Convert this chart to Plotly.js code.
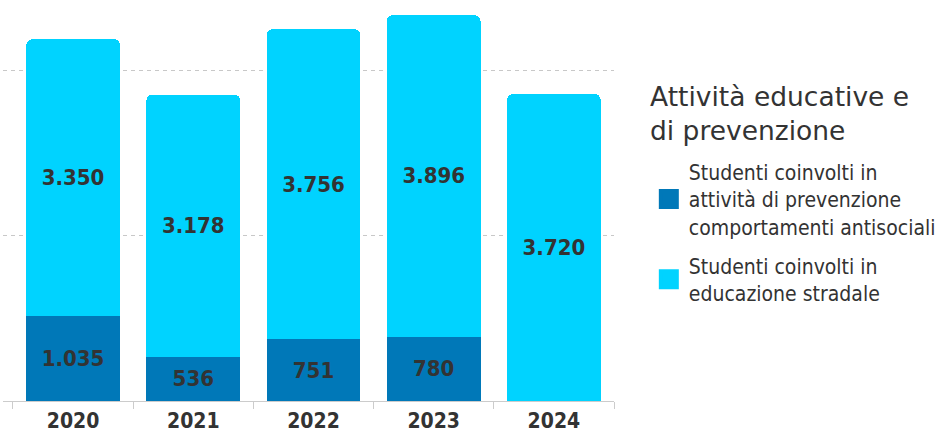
<!DOCTYPE html>
<html>
<head>
<meta charset="utf-8">
<script src="https://cdn.plot.ly/plotly-3.0.1.min.js"></script>
<style>
  html, body { margin: 0; padding: 0; background: #fff; }
  #chart { width: 949px; height: 434px; }
</style>
</head>
<body>
<div id="chart"></div>
<script>
// ---- data ----
const years = ['2020', '2021', '2022', '2023', '2024'];
const prevenzione = [1035, 536, 751, 780, null];      // Studenti coinvolti in attività di prevenzione comportamenti antisociali
const stradale = [3350, 3178, 3756, 3896, 3720];      // Studenti coinvolti in educazione stradale
const seriesNames = [
  'Studenti coinvolti in<br>attività di prevenzione<br>comportamenti antisociali',
  'Studenti coinvolti in<br>educazione stradale'
];
const legendTitle = 'Attività educative e<br>di prevenzione';
const gridValues = [2000, 4000];

const DARK = '#0078b8';
const LIGHT = '#00d3ff';
const TXT = '#333333';
const FONT = 'DejaVu Sans Condensed, DejaVu Sans, sans-serif';

const labelFont = { family: FONT, size: 22, color: TXT, weight: 'bold' };

const traces = [
  {
    type: 'bar', x: years, y: prevenzione, name: seriesNames[0],
    marker: { color: DARK }, showlegend: false,
    texttemplate: '%{y:,d}', textposition: 'inside', insidetextanchor: 'middle',
    textangle: 0, textfont: labelFont, insidetextfont: labelFont,
    constraintext: 'none', hoverinfo: 'skip'
  },
  {
    type: 'bar', x: years, y: stradale, name: seriesNames[1],
    marker: { color: LIGHT }, showlegend: false,
    texttemplate: '%{y:,d}', textposition: 'inside', insidetextanchor: 'middle',
    textangle: 0, textfont: labelFont, insidetextfont: labelFont,
    constraintext: 'none', hoverinfo: 'skip'
  },
  // legend entries
  {
    type: 'scatter', mode: 'markers', x: [years[0]], y: [null], name: seriesNames[0],
    legendgroup: 'a',
    marker: { symbol: 'square', size: 22, color: DARK, line: { color: DARK, width: 4 } }, hoverinfo: 'skip'
  },
  {
    type: 'scatter', mode: 'markers', x: [years[0]], y: [null], name: seriesNames[1],
    legendgroup: 'b',
    marker: { symbol: 'square', size: 22, color: LIGHT, line: { color: LIGHT, width: 4 } }, hoverinfo: 'skip'
  }
];

const layout = {
  width: 949, height: 434,
  margin: { l: 3, r: 335, t: 0, b: 33, pad: 0 },
  paper_bgcolor: '#ffffff', plot_bgcolor: '#ffffff',
  barmode: 'stack', bargap: 0.22, barcornerradius: 6,
  separators: ',.',
  font: { family: FONT, color: TXT },
  xaxis: {
    type: 'category', range: [-0.583, 4.5],
    showline: true, linecolor: '#cccccc', linewidth: 1,
    ticks: 'outside', tickson: 'boundaries', ticklen: 7, tickcolor: '#cccccc', tickwidth: 1,
    tickfont: { family: FONT, size: 21, color: TXT, weight: 'bold' },
    ticklabelstandoff: 1,
    showgrid: false, zeroline: false, fixedrange: true
  },
  yaxis: {
    range: [0, 4860], tickvals: gridValues, showticklabels: false,
    showgrid: true, gridcolor: '#c8c8c8', gridwidth: 1, griddash: '4px,4px',
    zeroline: false, showline: false, ticks: '', fixedrange: true
  },
  legend: {
    x: 1.057, xanchor: 'left', y: 0.622, yanchor: 'top',
    traceorder: 'grouped', orientation: 'v',
    font: { family: FONT, size: 21, color: TXT },
    itemclick: false, itemdoubleclick: false, tracegroupgap: 9, valign: 'middle'
  },
  annotations: [{
    text: legendTitle, xref: 'paper', yref: 'paper',
    x: (648 - 3) / 611, xanchor: 'left', y: 1 - 79 / 401, yanchor: 'top',
    align: 'left', showarrow: false,
    font: { family: 'DejaVu Sans, sans-serif', size: 26.5, color: TXT }
  }],
  showlegend: true
};

Plotly.newPlot('chart', traces, layout, { displayModeBar: false, staticPlot: true });
</script>
</body>
</html>
